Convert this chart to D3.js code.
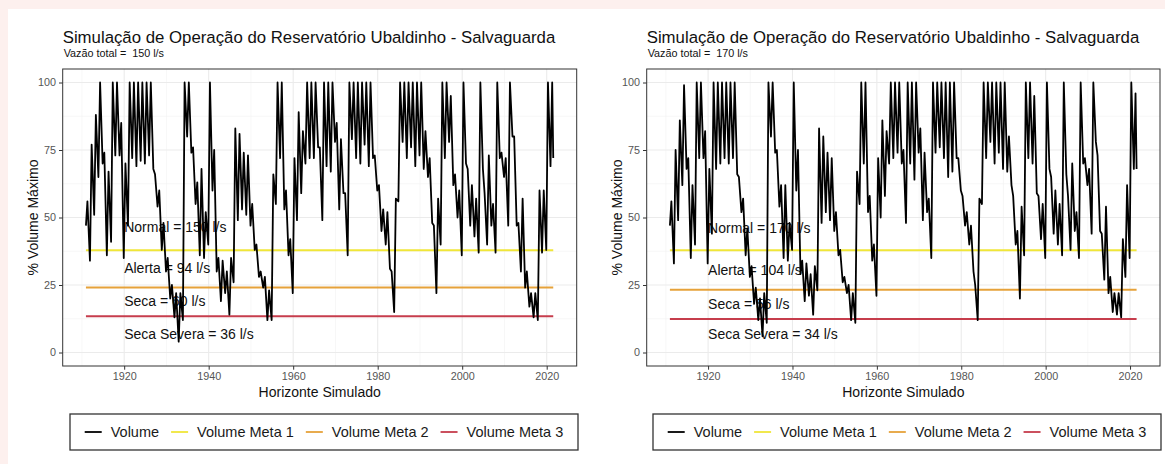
<!DOCTYPE html>
<html><head><meta charset="utf-8">
<script src="https://cdn.jsdelivr.net/npm/d3@7"></script>
<style>
body{margin:0;background:#fff;}
svg{display:block;font-family:"Liberation Sans",Arial,Helvetica,sans-serif;}
</style>
</head><body>
<svg id="c" width="1165" height="464"></svg>
<script>
// ---------------- DATA ----------------
const anos = d3.range(1911, 2022); // 1911 .. 2021
const inicio150 = 47;
const pico150 = [56,77,88,100,74,67,100,100,85,70,
  100,100,100,100,100,100,66,60,48,35,
  25,22,22,100,100,76,63,68,52,100,
  75,35,34,30,35,83,81,74,73,55,
  40,30,28,23,66,100,100,60,42,72,
  89,82,100,100,100,76,100,100,100,85,
  79,59,100,100,100,100,100,100,73,62,
  53,52,30,57,100,100,100,100,100,100,
  82,72,47,57,100,100,95,66,60,100,
  68,62,57,100,59,73,55,100,74,72,
  100,80,48,57,30,22,22,60,60,100,
  100];
const vale150 = [34,51,65,70,36,41,73,73,35,47,
  72,69,71,70,73,68,54,38,30,20,
  13,4,12,80,74,55,36,35,40,60,
  30,19,22,14,26,49,53,51,47,38,
  28,24,12,12,55,72,53,36,22,49,
  59,70,72,72,76,49,69,67,78,53,
  59,36,79,72,70,77,69,72,60,45,
  40,31,15,56,78,72,76,69,73,68,
  65,48,22,40,72,78,62,50,36,70,
  47,43,37,68,40,47,37,72,65,47,
  80,47,30,24,17,13,12,37,38,69,
  72];
const inicio170 = 47;
const pico170 = [56,75,86,99,72,62,100,100,82,68,
  100,100,100,100,100,100,65,57,46,32,
  24,20,22,100,100,75,62,62,48,100,
  75,34,33,29,32,83,80,74,72,52,
  38,28,25,22,67,100,100,58,40,72,
  86,82,100,100,100,75,100,100,100,83,
  74,57,100,100,100,100,100,100,72,58,
  52,47,25,57,100,100,100,100,100,100,
  80,58,45,54,100,100,95,58,55,100,
  65,60,55,100,58,70,52,100,72,68,
  100,73,44,54,28,22,22,42,62,100,
  96];
const vale170 = [33,49,62,68,35,40,72,72,33,44,
  68,70,72,70,72,66,52,36,28,18,
  12,6,11,80,74,54,35,34,38,60,
  29,19,21,14,23,48,52,49,45,36,
  26,22,12,11,55,70,52,34,21,50,
  58,70,72,74,70,48,70,64,74,49,
  52,35,74,76,72,65,67,72,60,47,
  40,30,12,55,72,78,70,74,68,67,
  62,40,20,36,72,70,59,42,35,68,
  44,40,36,66,38,45,35,70,62,44,
  78,45,27,22,15,14,13,28,35,68,
  68];
const metas150 = [37.9, 24.1, 13.4];
const metas170 = [37.9, 23.2, 12.4];
const rotulos150 = ["Normal = 150 l/s", "Alerta = 94 l/s", "Seca = 60 l/s", "Seca Severa = 36 l/s"];
const rotulos170 = ["Normal = 170 l/s", "Alerta = 104 l/s", "Seca = 56 l/s", "Seca Severa = 34 l/s"];
const rotuloY150 = [46.4, 31.2, 19.0, 6.8];
const rotuloY170 = [45.9, 30.6, 18.1, 6.7];
const xTicks = [1920, 1940, 1960, 1980, 2000, 2020];
const yTicks = [0, 25, 50, 75, 100];
const xMinor = [1910, 1930, 1950, 1970, 1990, 2010];
const yMinor = [12.5, 37.5, 62.5, 87.5];
const legendLabels = ["Volume", "Volume Meta 1", "Volume Meta 2", "Volume Meta 3"];
const titulo = "Simulação de Operação do Reservatório Ubaldinho - Salvaguarda";
const vazoes = ["150", "170"];

// ---------------- STYLE ----------------
const colors = ["#000000", "#f0e639", "#e6a23a", "#c63d4c"];
const t0 = 1910.95, tEnd = 2021.55;

function buildSeries(inicio, pico, vale) {
  const pts = [[t0, inicio]];
  anos.forEach((a, i) => {
    pts.push([a + 0.3, pico[i]]);
    pts.push([i === anos.length - 1 ? tEnd : a + 0.9, vale[i]]);
  });
  return pts;
}

const svg = d3.select("#c");
svg.append("rect").attr("width", 1165).attr("height", 464).attr("fill", "#fff");
svg.append("rect").attr("width", 1165).attr("height", 9).attr("fill", "#fdf0ee");
svg.append("rect").attr("width", 8).attr("height", 464).attr("fill", "#fdf0ee");

const panels = [
  {left: 62.7, right: 576.7, vaz: vazoes[0], series: buildSeries(inicio150, pico150, vale150),
   metas: metas150, rot: rotulos150, rotY: rotuloY150, leg: [70, 578]},
  {left: 646.7, right: 1160, vaz: vazoes[1], series: buildSeries(inicio170, pico170, vale170),
   metas: metas170, rot: rotulos170, rotY: rotuloY170, leg: [653, 1161]}
];

const pTop = 69, pBottom = 366;

panels.forEach(p => {
  const g = svg.append("g");
  const x = d3.scaleLinear().domain([1905.45, 2027.1]).range([p.left, p.right]);
  const y = d3.scaleLinear().domain([-5, 105]).range([pBottom, pTop]);

  // titles
  g.append("text").attr("x", p.left).attr("y", 43).attr("font-size", 16.8).attr("fill", "#111").text(titulo);
  g.append("text").attr("x", p.left + 1).attr("y", 57).attr("font-size", 10.8).attr("fill", "#111")
    .style("white-space", "pre").text("Vazão total =  " + p.vaz + " l/s");

  // panel bg
  g.append("rect").attr("x", p.left).attr("y", pTop).attr("width", p.right - p.left).attr("height", pBottom - pTop).attr("fill", "#fff");
  // minor grid
  g.selectAll(".vxm").data(xMinor).join("line").attr("x1", d => x(d)).attr("x2", d => x(d)).attr("y1", pTop).attr("y2", pBottom)
    .attr("stroke", "#f2f2f2").attr("stroke-width", 0.6);
  g.selectAll(".hym").data(yMinor).join("line").attr("y1", d => y(d)).attr("y2", d => y(d)).attr("x1", p.left).attr("x2", p.right)
    .attr("stroke", "#f2f2f2").attr("stroke-width", 0.6);
  // major grid
  g.selectAll(".vx").data(xTicks).join("line").attr("x1", d => x(d)).attr("x2", d => x(d)).attr("y1", pTop).attr("y2", pBottom)
    .attr("stroke", "#ebebeb").attr("stroke-width", 1.1);
  g.selectAll(".hy").data(yTicks).join("line").attr("y1", d => y(d)).attr("y2", d => y(d)).attr("x1", p.left).attr("x2", p.right)
    .attr("stroke", "#ebebeb").attr("stroke-width", 1.1);

  // meta lines
  p.metas.forEach((m, i) => {
    g.append("line").attr("x1", x(t0)).attr("x2", x(tEnd)).attr("y1", y(m)).attr("y2", y(m))
      .attr("stroke", colors[i + 1]).attr("stroke-width", 2);
  });

  // annotations
  p.rot.forEach((r, i) => {
    g.append("text").attr("x", x(1920)).attr("y", y(p.rotY[i])).attr("dy", "0.35em")
      .attr("font-size", 14).attr("fill", "#111").text(r);
  });

  // volume line
  g.append("path").datum(p.series)
    .attr("d", d3.line().x(d => x(d[0])).y(d => y(d[1])))
    .attr("fill", "none").attr("stroke", colors[0]).attr("stroke-width", 1.8).attr("stroke-linejoin", "round");

  // border
  g.append("rect").attr("x", p.left).attr("y", pTop).attr("width", p.right - p.left).attr("height", pBottom - pTop)
    .attr("fill", "none").attr("stroke", "#333").attr("stroke-width", 1);

  // axes
  const ax = g.append("g").attr("transform", `translate(0,${pBottom})`)
    .call(d3.axisBottom(x).tickValues(xTicks).tickFormat(d3.format("d")).tickSize(3.7).tickPadding(3));
  const ay = g.append("g").attr("transform", `translate(${p.left},0)`)
    .call(d3.axisLeft(y).tickValues(yTicks).tickSize(3.7).tickPadding(3));
  [ax, ay].forEach(a => {
    a.select(".domain").remove();
    a.selectAll(".tick line").attr("stroke", "#333");
    a.selectAll(".tick text").attr("fill", "#555").attr("font-size", 10.8)
      .attr("font-family", '"Liberation Sans",Arial,sans-serif');
  });

  // axis titles
  g.append("text").attr("x", (p.left + p.right) / 2).attr("y", 397).attr("text-anchor", "middle")
    .attr("font-size", 14).attr("fill", "#111").text("Horizonte Simulado");
  g.append("text").attr("transform", `translate(${p.left - 25},${(pTop + pBottom) / 2}) rotate(-90)`)
    .attr("text-anchor", "middle").attr("font-size", 14).attr("fill", "#111").text("% Volume Máximo");

  // legend
  const lg = g.append("g");
  const bx0 = p.leg[0], bx1 = p.leg[1], by0 = 414, by1 = 450;
  lg.append("rect").attr("x", bx0).attr("y", by0).attr("width", bx1 - bx0).attr("height", by1 - by0)
    .attr("fill", "#fff").attr("stroke", "#333").attr("stroke-width", 1.3);
  const items = lg.append("g");
  let cx = 0;
  legendLabels.forEach((lab, i) => {
    items.append("line").attr("x1", cx).attr("x2", cx + 17).attr("y1", 0).attr("y2", 0)
      .attr("stroke", colors[i]).attr("stroke-width", 1.8);
    const t = items.append("text").attr("x", cx + 26).attr("y", 0).attr("dy", "0.35em")
      .attr("font-size", 14.5).attr("fill", "#1a1a1a").text(lab);
    cx += 26 + t.node().getComputedTextLength() + 12;
  });
  const w = cx - 12;
  items.attr("transform", `translate(${(bx0 + bx1) / 2 - w / 2},${(by0 + by1) / 2})`);
});
</script>
</body></html>
